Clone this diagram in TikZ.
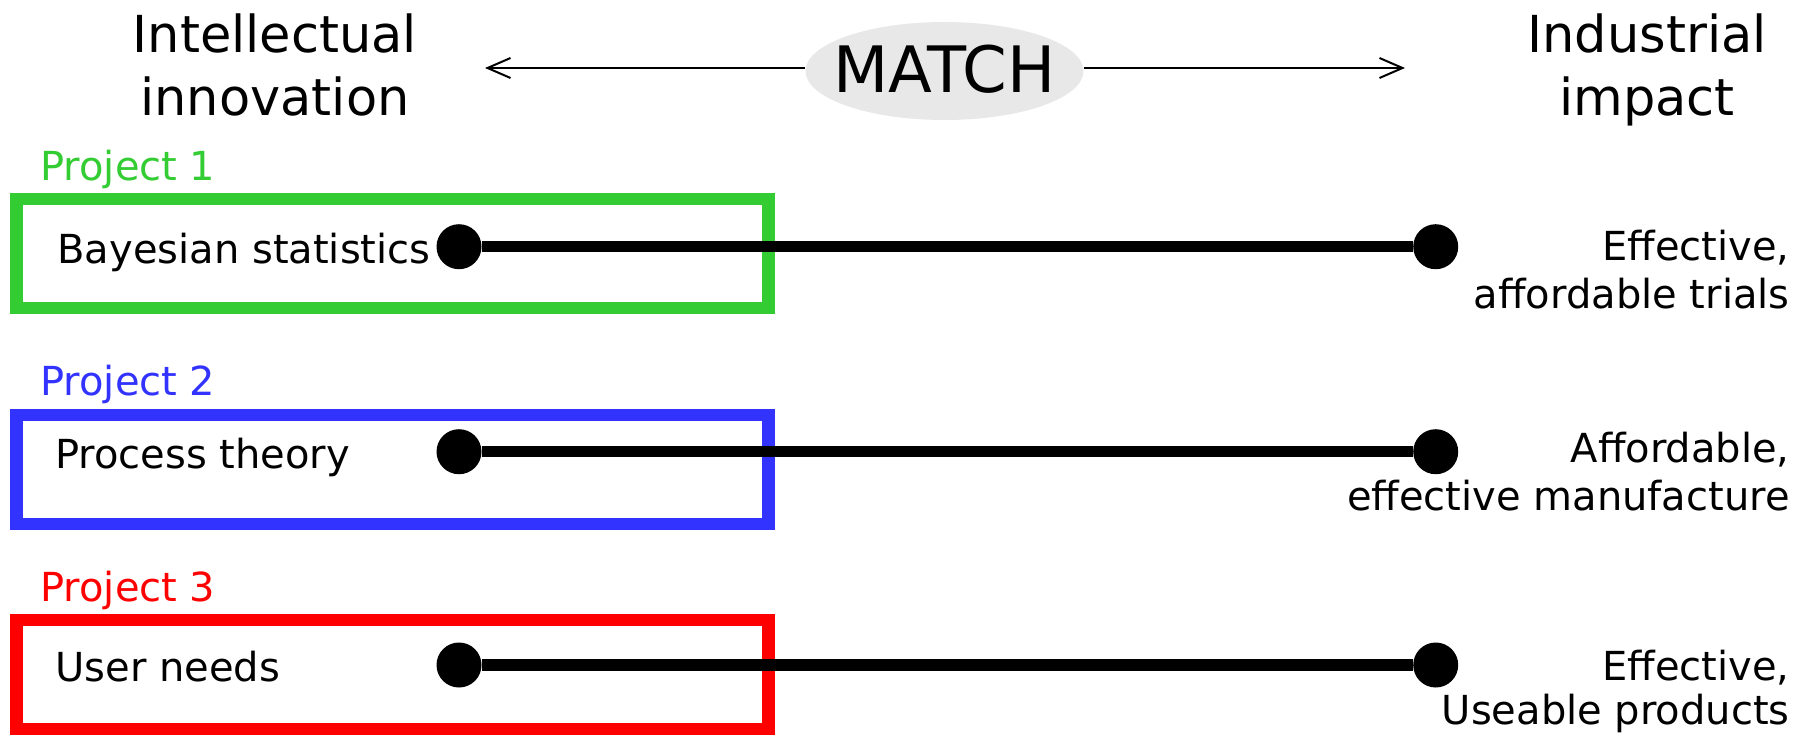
\documentclass[tikz,border=0pt]{standalone}
\usepackage{fontspec}
\setmainfont{DejaVu Sans}
\usetikzlibrary{arrows.meta,shapes.geometric}
\definecolor{pgreen}{RGB}{51,204,51}
\definecolor{pblue}{RGB}{51,51,255}
\definecolor{pred}{RGB}{255,0,0}
\definecolor{matchgray}{RGB}{232,232,232}
\begin{document}
\begin{tikzpicture}[x=0.5pt,y=-0.5pt,
  heading/.style={font=\fontsize{25.5}{31.5}\selectfont, align=center, inner sep=0pt, anchor=base},
  body/.style={font=\fontsize{20}{24}\selectfont, inner sep=0pt},
  projbox/.style={draw, line width=6.25pt, minimum width=376pt, minimum height=54.5pt, inner sep=0pt},
  dot/.style={circle, fill=black, minimum size=22.5pt, inner sep=0pt},
  link/.style={line width=5.75pt},
  matcharrow/.style={line width=1pt, -{Straight Barb[length=11.5pt,width=10pt]}}
]
\useasboundingbox (0,0) rectangle (1807,738);
\fill[white] (0,0) rectangle (1807,738);

% headings (base anchor = last line)
\node[heading] (intel) at (275,115) {Intellectual\\innovation};
\node[heading] (indus) at (1647,115) {Industrial\\impact};

% MATCH
\node[ellipse, fill=matchgray, minimum width=139pt, minimum height=49pt, inner sep=0pt] (match) at (944.5,71) {};
\node[font=\fontsize{32}{38}\selectfont, inner sep=0pt] (matchtext) at (944.5,69) {MATCH};
\coordinate (ltip) at (485,68);
\coordinate (rtip) at (1405,68);
\draw[matcharrow] (match.west |- ltip) -- (ltip);
\draw[matcharrow] (match.east |- rtip) -- (rtip);

% Project 1
\node[projbox, draw=pgreen] (box1) at (392.5,253.5) {};
\node[body, text=pgreen, anchor=base west] (proj1) at (40,180) {Project 1};
\node[body, anchor=base west] (t1) at (57,263) {Bayesian statistics};
\node[dot] (l1) at (459,246.7) {};
\node[dot] (r1) at (1435.7,246.7) {};
\draw[link] (l1) -- (r1);
\node[body, align=right, anchor=base east] (i1) at (1790,308) {Effective,\\affordable trials};

% Project 2
\node[projbox, draw=pblue] (box2) at (392.5,469.4) {};
\node[body, text=pblue, anchor=base west] (proj2) at (40,395.7) {Project 2};
\node[body, anchor=base west] (t2) at (55,468) {Process theory};
\node[dot] (l2) at (459,451.7) {};
\node[dot] (r2) at (1435.7,451.7) {};
\draw[link] (l2) -- (r2);
\node[body, align=right, anchor=base east] (i2) at (1790,510) {Affordable,\\effective manufacture};

% Project 3
\node[projbox, draw=pred] (box3) at (392.5,674.7) {};
\node[body, text=pred, anchor=base west] (proj3) at (40,601.7) {Project 3};
\node[body, anchor=base west] (t3) at (55,681.7) {User needs};
\node[dot] (l3) at (459,665) {};
\node[dot] (r3) at (1435.7,665) {};
\draw[link] (l3) -- (r3);
\node[body, align=right, anchor=base east] (i3) at (1790,724) {Effective,\\[-2pt]Useable products};
\end{tikzpicture}
\end{document}
